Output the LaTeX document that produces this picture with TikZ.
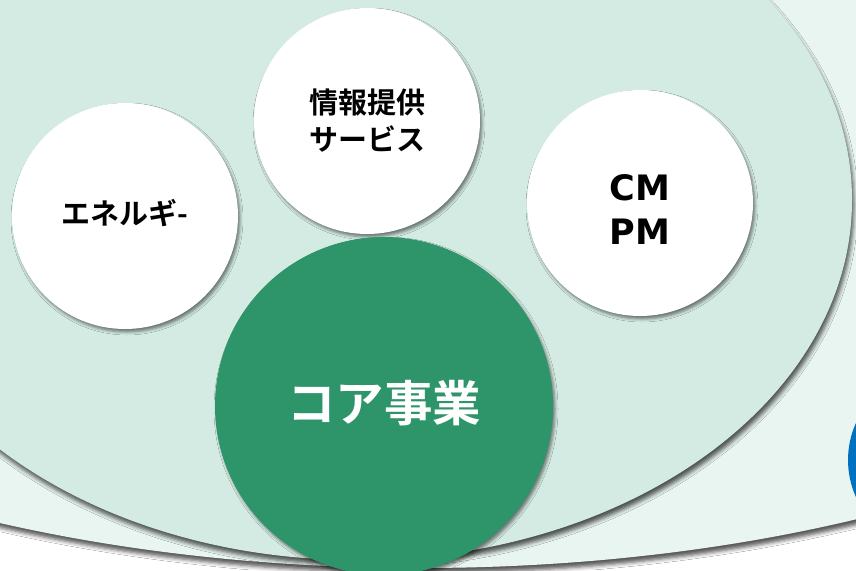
\documentclass[tikz,border=0pt]{standalone}
\usepackage{fontspec}
\setmainfont{DejaVu Sans}
\newfontfamily\jp{Noto Sans CJK JP}[BoldFont={Noto Sans CJK JP Bold}]
\usetikzlibrary{shadows.blur}
\definecolor{outerc}{HTML}{E8F5F1}
\definecolor{innerc}{HTML}{D4EBE3}
\definecolor{corec}{HTML}{2E9469}
\definecolor{bluec}{HTML}{0070C0}
\tikzset{
  sh/.style={blur shadow={shadow xshift=2pt, shadow yshift=-3pt, shadow blur radius=3pt, shadow opacity=50}},
  bigsh/.style={blur shadow={shadow xshift=2pt, shadow yshift=-5pt, shadow blur radius=4pt, shadow opacity=65}},
  bub/.style={circle, fill=white, minimum size=226pt, inner sep=0pt, sh},
  jptext/.style={align=center, font=\jp\bfseries\fontsize{29}{37}\selectfont},
  lattext/.style={align=center, font=\bfseries\fontsize{35}{44}\selectfont},
}
\begin{document}
\begin{tikzpicture}[x=1pt,y=-1pt]
\useasboundingbox (0,0) rectangle (856,570);
\clip (0,0) rectangle (856,570);
\fill[white] (0,0) rectangle (856,570);
% outer pale ellipse
\path[fill=outerc, bigsh] (420,150) ellipse [x radius=930, y radius=418];
% blue circle at right edge
\node[circle, fill=bluec, minimum size=180pt, inner sep=0pt] (blue) at (938,460) {};
% inner ellipse
\path[fill=innerc, bigsh] (357,200) ellipse [x radius=495, y radius=360];
% white bubbles
\node[bub] (ene) at (125,216) {};
\node[bub] (info) at (367,121) {};
\node[bub] (cm) at (640,203) {};
\node[jptext] (enet) at (125,213) {エネルギ-};
\node[jptext] (infot) at (367,121) {情報提供\\サービス};
\node[lattext] (cmt) at (640,210) {CM\\PM};
% core circle
\node[circle, fill=corec, minimum size=338pt, inner sep=0pt, sh] (core) at (384,406) {};
\node[text=white, font=\jp\bfseries\fontsize{48.5}{50}\selectfont] (coret) at (384,403) {コア事業};
\end{tikzpicture}
\end{document}
